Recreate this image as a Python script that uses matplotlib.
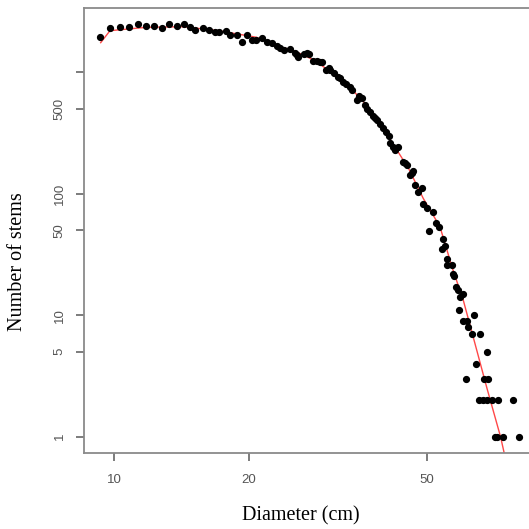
import matplotlib.pyplot as plt
import matplotlib.ticker as mticker

diam = [9.3, 9.8, 10.3, 10.8, 11.3, 11.8, 12.3, 12.8, 13.3, 13.8, 14.3, 14.8,
        15.2, 15.8, 16.3, 16.8, 17.2, 17.8, 18.2, 18.8, 19.3, 19.8, 20.3, 20.8,
        21.4, 21.9, 22.5, 23.1, 23.5, 24.0, 24.7, 25.4, 25.6, 25.8, 26.6, 26.9,
        27.2, 27.8, 28.4, 28.8, 29.1, 29.7, 30.2, 30.4, 31.0, 31.7, 32.0, 32.5,
        33.0, 33.6, 34.0, 34.8, 35.2, 35.7, 36.3, 36.8, 37.3, 37.8, 38.2, 38.6,
        39.2, 39.9, 40.5, 41.0, 41.3, 42.0, 42.4, 43.1, 44.2, 44.6, 45.0, 45.8,
        46.2, 46.6, 47.0, 47.8, 48.6, 49.0, 49.9, 50.6, 51.6, 52.3, 53.2, 53.9,
        54.2, 54.8, 55.3, 55.5, 56.7, 57.0, 57.4, 58.0, 58.7, 59.0, 59.2, 60.0,
        60.2, 61.1, 61.3, 61.8, 62.9, 63.7, 64.3, 65.1, 65.6, 66.5, 67.0, 67.9,
        68.1, 68.5, 69.7, 70.8, 71.7, 72.1, 73.7, 77.6, 80.2]
stems = [1940, 2310, 2370, 2370, 2480, 2400, 2400, 2300, 2480, 2400, 2480, 2340,
         2210, 2310, 2220, 2130, 2130, 2170, 2020, 2020, 1780, 2020, 1840, 1840,
         1900, 1780, 1730, 1640, 1570, 1520, 1540, 1430, 1385, 1340, 1410, 1430,
         1410, 1245, 1245, 1220, 1220, 1040, 1080, 1040, 985, 918, 890, 835,
         800, 751, 720, 590, 640, 610, 540, 500, 473, 440, 420, 404,
         375, 345, 320, 300, 263, 240, 229, 244, 183, 178, 172, 143,
         147, 155, 118, 104, 111, 83, 76, 49, 71, 57, 53, 35,
         42, 37, 26, 29, 26, 22, 21, 17, 16, 11, 14, 9,
         15, 3, 9, 8, 7, 10, 4, 2, 7, 2, 3, 2,
         5, 3, 2, 1, 1, 2, 1, 2, 1]

# fitted curve (red line)
fit_d = [9.34, 9.8, 11.8, 14.3, 17.2, 20.8, 23.4, 25.1, 27.9, 30.2, 33.0, 36.0,
         39.2, 42.8, 45.5, 49.0, 53.4, 57.0, 60.2, 64.5, 68.0, 72.9, 74.5]
fit_n = [1750, 2197, 2340, 2368, 2189, 1938, 1621, 1514, 1262, 1029, 806, 575,
         380, 229, 160, 91.6, 53.5, 24, 13.3, 5.17, 2.5, 1.0, 0.7]

W = H = 529
fig = plt.figure(figsize=(W / 100, H / 100), dpi=100)
ax = fig.add_axes([83.7 / W, (H - 453) / H, (532 - 83.7) / W, (453 - 7.5) / H])

ax.plot(fit_d, fit_n, color='#ff4848', lw=1.0, zorder=2)
ax.plot(diam, stems, 'o', color='black', ms=4.2, mec='black', zorder=3)

ax.set_xscale('log')
ax.set_yscale('log')
ax.set_xlim(8.56, 85.7)
ax.set_ylim(0.734, 3408)

ax.xaxis.set_major_locator(mticker.FixedLocator([10, 20, 50]))
ax.xaxis.set_major_formatter(mticker.FixedFormatter(['10', '20', '50']))
ax.xaxis.set_minor_locator(mticker.NullLocator())
ax.yaxis.set_major_locator(mticker.FixedLocator([1, 5, 10, 50, 100, 500, 1000]))
ax.yaxis.set_major_formatter(mticker.FixedFormatter(['1', '5', '10', '50', '100', '500', '']))
ax.yaxis.set_minor_locator(mticker.NullLocator())

for s in ax.spines.values():
    s.set_color('#8a8a8a')
    s.set_linewidth(1.3)
ax.tick_params(length=6, width=1.2, color='#666666', labelcolor='#555555',
               labelsize=9.5, pad=9)
ax.tick_params(axis='y', pad=7)
for lab in ax.get_xticklabels() + ax.get_yticklabels():
    lab.set_family('Liberation Sans')
for lab in ax.get_yticklabels():
    lab.set_rotation(90)
    lab.set_va('center')

fig.text(301 / W, 1 - 516 / H, 'Diameter (cm)', family='Liberation Serif',
         fontsize=14.5, ha='center', va='center')
fig.text(18 / W, 1 - 262 / H, 'Number of stems', family='Liberation Serif',
         fontsize=14.5, ha='center', va='center', rotation=90)

fig.savefig('out.png', dpi=100)
